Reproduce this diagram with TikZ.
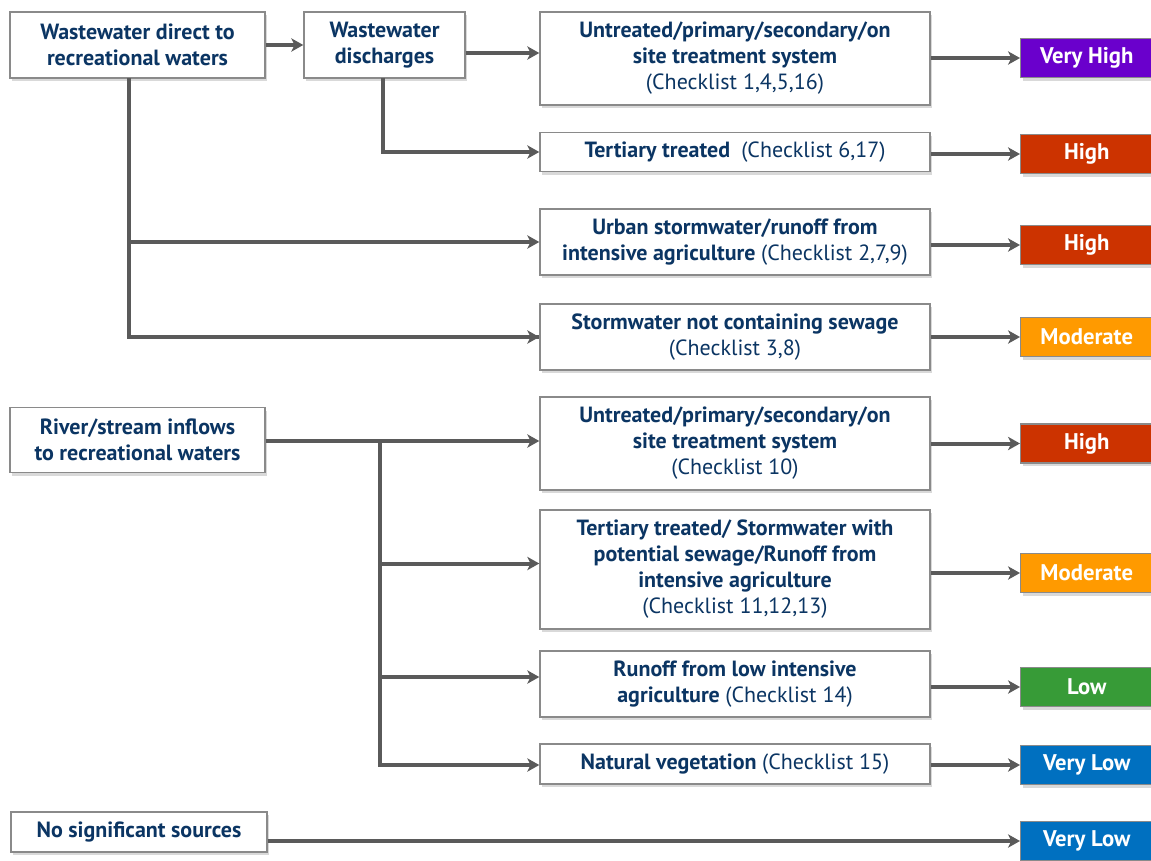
\documentclass[tikz,border=0pt]{standalone}
\usepackage{fontspec}
\setmainfont{PT Sans}
\usetikzlibrary{arrows.meta,shadows,calc}
\definecolor{txt}{HTML}{0B3563}
\definecolor{edge}{HTML}{8A8A8A}
\definecolor{conn}{HTML}{5A5A5A}
\definecolor{vhigh}{HTML}{6A00CC}
\definecolor{high}{HTML}{CC3300}
\definecolor{mod}{HTML}{FF9A00}
\definecolor{low}{HTML}{379B37}
\definecolor{vlow}{HTML}{0070C0}
\begin{document}
\begin{tikzpicture}[x=0.75pt,y=-0.75pt,
  box/.style={draw=edge,line width=1.1pt,fill=white,text=txt,align=center,
    inner sep=0pt,font=\fontsize{16.5}{19.5}\selectfont\bfseries,
    drop shadow={opacity=0.3,shadow xshift=1.5pt,shadow yshift=-2.5pt}},
  rate/.style={draw=edge,line width=1.1pt,text=white,align=center,inner sep=0pt,
    minimum width=99pt,minimum height=29pt,font=\fontsize{17}{19}\selectfont\bfseries,
    drop shadow={opacity=0.3,shadow xshift=1.5pt,shadow yshift=-2.5pt}},
  conn/.style={draw=conn,line width=3pt,-{Stealth[length=9pt,width=10pt,inset=2.5pt]}},
  line/.style={draw=conn,line width=3pt}]
\useasboundingbox (0,0) rectangle (1151,860);
\clip (0,0) rectangle (1151,860);
\newcommand{\rg}[1]{{\mdseries #1}}
% sources
\node[box,minimum width=191pt,minimum height=49.5pt] (A) at (137.5,45) {Wastewater direct to\\recreational waters};
\node[box,minimum width=120.75pt,minimum height=49.5pt] (B) at (384.5,45) {Wastewater\\discharges};
\node[box,minimum width=191pt,minimum height=48.75pt] (D) at (137.5,440) {River/stream inflows\\to recreational waters};
\node[box,minimum width=192pt,minimum height=30pt] (E) at (139,832) {No significant sources};
% middle boxes
\node[box,minimum width=292.5pt,minimum height=69.75pt] (C1) at (735,58.5) {Untreated/primary/secondary/on\\site treatment system\\\rg{(Checklist 1,4,5,16)}};
\node[box,minimum width=292.5pt,minimum height=29.25pt] (C2) at (735,152) {Tertiary treated\ \ \rg{(Checklist 6,17)}};
\node[box,minimum width=292.5pt,minimum height=49.5pt] (C3) at (735,242) {Urban stormwater/runoff from\\intensive agriculture \rg{(Checklist 2,7,9)}};
\node[box,minimum width=292.5pt,minimum height=49.5pt] (C4) at (735,337) {Stormwater not containing sewage\\\rg{(Checklist 3,8)}};
\node[box,minimum width=292.5pt,minimum height=69.75pt] (C5) at (735,443.5) {Untreated/primary/secondary/on\\site treatment system\\\rg{(Checklist 10)}};
\node[box,minimum width=292.5pt,minimum height=89.25pt] (C6) at (735,569.5) {Tertiary treated/ Stormwater with\\potential sewage/Runoff from\\intensive agriculture\\\rg{(Checklist 11,12,13)}};
\node[box,minimum width=292.5pt,minimum height=49.5pt] (C7) at (735,684) {Runoff from low intensive\\agriculture \rg{(Checklist 14)}};
\node[box,minimum width=292.5pt,minimum height=30pt] (C8) at (735,764) {Natural vegetation \rg{(Checklist 15)}};
% ratings
\node[rate,fill=vhigh,anchor=west] (R1) at (1020,58) {Very High};
\node[rate,fill=high,anchor=west] (R2) at (1020,154) {High};
\node[rate,fill=high,anchor=west] (R3) at (1020,245) {High};
\node[rate,fill=mod,anchor=west] (R4) at (1020,337) {Moderate};
\node[rate,fill=high,anchor=west] (R5) at (1020,443.5) {High};
\node[rate,fill=mod,anchor=west] (R6) at (1020,573) {Moderate};
\node[rate,fill=low,anchor=west] (R7) at (1020,687) {Low};
\node[rate,fill=vlow,anchor=west] (R8) at (1020,765) {Very Low};
\node[rate,fill=vlow,anchor=west] (R9) at (1020,841) {Very Low};
% connectors
\coordinate (bA) at (129,78);
\coordinate (bB) at (383,78);
\coordinate (bD) at (380,441);
\coordinate (yBC) at (0,53);
\draw[conn] (A) -- (B);
\draw[conn] (B.east |- yBC) -- (C1.west |- yBC);
\draw[conn] (bB) |- (C2.west);
\draw[conn] (bA) |- (C3.west);
\draw[line] (bA) |- (C4.west);
\draw[conn] (bA |- C4.west) -- (C4.west);
\draw[line] (D.east |- bD) -- (bD);
\draw[conn] (bD) -- (C5.west |- bD);
\draw[conn] (bD) |- ($(C6.west)+(0,-6)$);
\draw[conn] (bD) |- ($(C7.west)+(0,-7)$);
\draw[conn] (bD) |- ($(C8.west)+(0,1)$);
\draw[conn] (C1.east |- R1.west) -- (R1.west);
\draw[conn] (C2.east |- R2.west) -- (R2.west);
\draw[conn] (C3.east |- R3.west) -- (R3.west);
\draw[conn] (C4.east) -- (R4.west);
\draw[conn] (C5.east |- R5.west) -- (R5.west);
\draw[conn] (C6.east |- R6.west) -- (R6.west);
\draw[conn] (C7.east |- R7.west) -- (R7.west);
\draw[conn] (C8.east |- R8.west) -- (R8.west);
\draw[conn] (E.east |- R9.west) -- (R9.west);
\end{tikzpicture}
\end{document}
